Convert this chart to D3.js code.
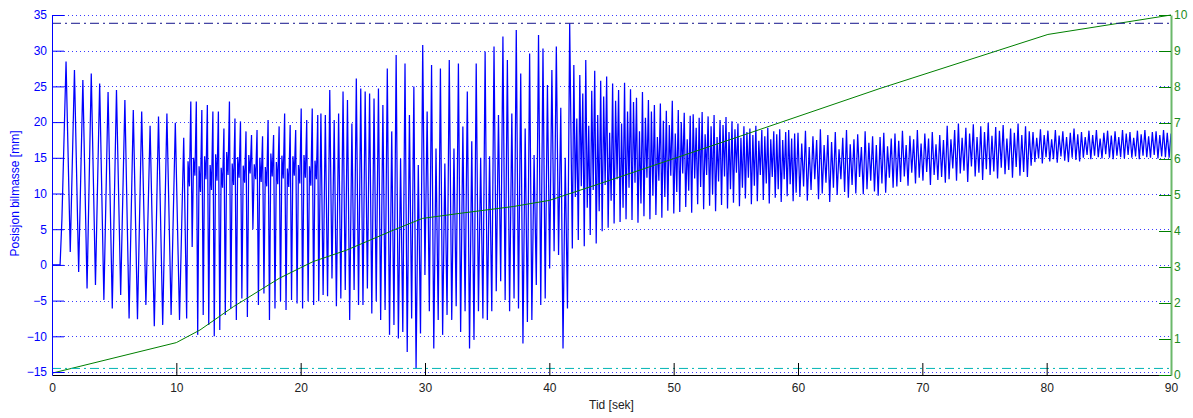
<!DOCTYPE html>
<html>
<head>
<meta charset="utf-8">
<script src="https://cdn.jsdelivr.net/npm/d3@7"></script>
<style>
body { margin: 0; background: #fff; }
svg { display: block; font-family: "Liberation Sans", Arial, sans-serif; }
</style>
</head>
<body>
<svg width="1193" height="418"></svg>
<script>
// ---- data ----
var xTicks = [0, 10, 20, 30, 40, 50, 60, 70, 80, 90];
var leftTicks = [-15, -10, -5, 0, 5, 10, 15, 20, 25, 30, 35];
var rightTicks = [0, 1, 2, 3, 4, 5, 6, 7, 8, 9, 10];

// green curve (right axis)
var greenT = [0, 10, 11.9, 14.6, 18.3, 20, 21, 23.7, 27.5, 29.8, 32.8, 37.1, 40, 44.1, 56, 66.6, 80.1, 90];
var greenV = [0.05, 0.9, 1.25, 1.9, 2.69, 2.98, 3.15, 3.47, 4.03, 4.35, 4.49, 4.68, 4.85, 5.32, 6.71, 7.96, 9.46, 10];

// reference levels (left axis)
var upperLevel = 33.84;
var lowerLevel = -14.5;

// blue signal: lead-in samples, then runs of peaks/troughs at a fixed spacing
var leadT = [0, 0.65, 0.8];
var leadV = [0, 0, 6.5];

var segStart = [1.13, 10.83, 21.45, 32.15, 41.85, 60.0];
var segStep = [0.338, 0.111, 0.178, 0.179, 0.12, 0.15];

var seg1 = [28.5, 1.8, 27.3, -1.0, 25.9, -3.3, 26.8, -2.8, 25.4, -4.9, 24.2, -6.1, 24.5, -4.2, 23.1,
  -7.5, 21.7, -7.6, 21.5, -5.6, 19.5, -8.6, 20.8, -8.4, 21.2, -7.0, 19.9, -7.7, 17.8];
var seg2 = [-7.5, 14.5, 11.0, 22.9,  2.5, 15.0, 12.5, 22.9,  -9.8, 13.8, 10.2, 21.7,  -7.0, 15.2, 12.0, 22.4,
  -8.4, 14.0, 10.5, 21.5,  -10.0, 15.5, 11.8, 21.5,  -9.1, 13.6, 10.8, 19.1,  -7.0, 15.8, 12.6, 22.9,
  -6.1, 14.2, 11.2, 20.5,  -7.7, 15.1, 12.2, 20.1,  -4.7, 13.9, 11.5, 18.7,  -7.3, 15.4, 12.8, 18.2,
  5.0, 14.1, 12.0, 18.9,  -5.6, 15.0, 11.6, 18.0,  -4.0, 13.7, 11.0, 20.3,  -7.7, 15.6, 12.4, 18.2,
  -6.1, 14.4, 11.3, 19.4,  -5.1, 15.3, 12.1, 21.2,  -6.3, 13.5, 10.9, 19.6,  -4.9, 15.2, 12.5, 18.9,
  -5.4, 14.0, 11.4, 21.9,  -6.1, 15.4, 12.2, 20.3,  -5.1, 13.8, 11.1, 21.9,  -5.6, 14.6, 12.0, 21.0];
var seg3 = [-5.1, 21.2, -4.2, 21.0, -4.4, 24.5, -1.9, 20.3, -5.8, 21.2, -4.7, 24.3, -3.5, 23.1, -7.7, 19.8,
  -3.5, 26.1, -5.6, 24.7, -5.6, 24.3, -3.3, 24.0, -6.8, 23.3, -5.1, 24.7, -7.7, 22.4, -6.3, 27.5,
  -9.8, 18.7, -8.4, 29.4, -10.3, 14.9, -9.4, 28.2, -12.2, 21.0, -7.5, 25.0, -14.5, 14.0, -9.6, 30.8,
  -1.4, 21.5, -6.5, 28.0, -11.7, 16.3, -7.7, 27.5, -9.8, 14.2, -7.0, 28.7];
var seg4 = [-7.7, 16.3, -5.8, 28.2, -9.4, 19.4, -6.5, 24.3, -11.7, 17.3, -10.5, 28.2, -6.5, 15.0, -7.5, 29.9,
  -7.7, 15.2, -6.5, 30.6, -3.7, 21.0, -2.3, 32.0, -4.9, 28.7, -6.5, 21.2, -4.7, 32.9, -6.1, 26.8,
  -11.0, 19.1, -8.0, 29.6, -7.7, 15.4, -2.8, 32.2, -5.6, 30.3, -4.7, 25.2, -0.5, 27.3, 1.9, 30.6,
  1.4, 22.0, -11.7, 15.0, -6.1, 33.8];
var seg5 = [2.3, 28.0, 9.5, 20.5, 3.5, 26.6, 11.0, 24.0, 2.6, 28.7,
  8.0, 19.5, 4.2, 24.4, 10.5, 27.2, 3.0, 21.0, 7.5, 25.8,
  4.7, 23.6, 11.2, 26.4, 5.2, 18.5, 9.0, 25.4, 5.8, 23.0,
  12.0, 24.5, 6.0, 19.8, 8.0, 25.5, 6.4, 21.5, 10.8, 24.6,
  6.3, 22.8, 11.5, 23.4, 5.9, 18.7, 8.6, 24.2, 6.8, 20.6,
  12.2, 23.1, 6.4, 21.5, 9.7, 22.4, 7.0, 17.9, 11.8, 22.6,
  6.6, 20.2, 9.5, 21.6, 7.6, 19.6, 12.5, 23.0, 7.2, 18.4,
  10.2, 21.7, 7.4, 20.0, 12.8, 21.3, 8.1, 17.6, 10.4, 20.9,
  7.3, 21.1, 12.1, 19.2, 8.5, 20.6, 10.9, 21.4, 7.8, 18.3,
  12.6, 20.8, 8.3, 19.4, 9.9, 21.0, 7.5, 17.9, 11.7, 20.3,
  8.4, 19.6, 12.4, 20.7, 7.9, 18.6, 10.6, 20.1, 8.7, 19.0,
  12.9, 19.8, 8.2, 17.8, 10.8, 19.4, 9.3, 18.6, 12.2, 19.1,
  8.5, 18.2, 11.1, 19.5, 8.9, 17.4, 12.6, 18.9, 9.1, 18.0,
  11.4, 19.2, 8.6, 17.6, 12.3, 18.7, 9.4, 18.3, 10.6, 19.0,
  8.8, 17.5, 12.0, 18.6, 9.6, 18.9, 11.3, 17.7, 8.9, 18.4, 10.1];
var seg6 = [18.5, 9.5, 17, 11, 18.8, 9, 16.5, 10.5, 18, 12, 17.5, 9.2, 19, 10, 16.8, 11.5,
  18.2, 8.8, 17.2, 10.8, 18.6, 9.8, 16.2, 12, 17.8, 10.2, 18.9, 9.4,
  16.9, 11.2, 17.6, 10, 18.3, 12.3, 16.5, 9.9, 18.7, 10.6, 17.1, 11.8, 18, 10.3, 16.8, 9.7,
  17.9, 11.4, 18.5, 10.1, 16.6, 12.2, 17.7, 10.8, 18.4, 11,
  17.4, 11.6, 18.8, 12.4, 16.8, 11.1, 18.1, 12.9, 17.6, 11.4, 18.9, 12.2, 17, 11.8, 18.4, 13,
  17.7, 11.2, 18.6, 12.6, 16.9, 11.9, 18.2, 12.3, 17.5, 11.5,
  19.5, 12, 17.6, 13.5, 18.9, 11.8, 19.8, 12.8, 17.8, 13.2, 19.2, 11.6, 18.4, 13.8, 19.7, 12.4,
  17.9, 12.9, 19.4, 11.9, 18.6, 13.4, 19.9, 12.6, 18.1, 13.1, 19.3, 12.1, 18.8, 13.6, 19.6, 12.7,
  17.7, 13.3, 19.1, 12.2, 18.5, 13.7, 19.8, 12.5, 18.2, 13, 19.4, 12.3, 18.7, 13.9,
  18.6, 14.4, 17.8, 14.9, 19, 14.2, 18.2, 15.1, 18.8, 14.5, 17.6, 14.8, 18.9, 14.3, 18.1, 15.2,
  18.7, 14.6, 17.9, 14.4, 18.5, 15, 19.1, 14.7, 18.3, 14.5,
  18.6, 15, 17.9, 15.4, 18.8, 14.8, 18.2, 15.3, 18.9, 15.1, 17.7, 14.9, 18.5, 15.5, 18.8, 15,
  18.1, 14.8, 18.7, 15.3, 17.9, 15.1, 18.9, 14.9, 18.4, 15.4, 18.6, 15, 17.8, 15.2, 18.8, 14.8,
  18.3, 15.3, 18.9, 15.1, 18, 15, 18.6, 15.4, 18.7, 14.9, 18.2, 15.2, 18.9, 15.1, 18.5, 15, 18.4];
var segs = [seg1, seg2, seg3, seg4, seg5, seg6];

// ---- layout ----
var svg = d3.select("svg");
var margin = {left: 52, right: 22, top: 15, bottom: 43};
var width = +svg.attr("width");
var height = +svg.attr("height");

var x = d3.scaleLinear().domain([0, 90]).range([margin.left, width - margin.right]);
var yL = d3.scaleLinear().domain([-15.42, 35]).range([height - margin.bottom, margin.top]);
var yR = d3.scaleLinear().domain([0, 10]).range([height - margin.bottom, margin.top]);

var sig = [];
leadT.forEach(function(t, i) { sig.push({t: t, v: leadV[i]}); });
segs.forEach(function(s, k) {
  s.forEach(function(v, i) { sig.push({t: segStart[k] + i * segStep[k], v: v}); });
});
var green = greenT.map(function(t, i) { return {t: t, v: greenV[i]}; });

// grid
svg.append("g").selectAll("line")
  .data(leftTicks)
  .enter().append("line")
  .attr("x1", x(0)).attr("x2", x(90))
  .attr("y1", function(d) { return Math.round(yL(d)) + 0.5; })
  .attr("y2", function(d) { return Math.round(yL(d)) + 0.5; })
  .attr("stroke", "#3a3aff")
  .attr("stroke-dasharray", "1,3")
  .attr("shape-rendering", "crispEdges");

// signal
var line = d3.line()
  .x(function(d) { return x(d.t); })
  .y(function(d) { return yL(d.v); });

svg.append("path")
  .attr("d", line(sig))
  .attr("fill", "none")
  .attr("stroke", "#0000ff")
  .attr("stroke-width", 1.25);

var lineR = d3.line()
  .x(function(d) { return x(d.t); })
  .y(function(d) { return yR(d.v); });

svg.append("path")
  .attr("d", lineR(green))
  .attr("fill", "none")
  .attr("stroke", "#008000")
  .attr("stroke-width", 1);

// reference levels
svg.append("line")
  .attr("x1", x(0)).attr("x2", x(90))
  .attr("y1", yL(upperLevel)).attr("y2", yL(upperLevel))
  .attr("stroke", "#14148c")
  .attr("stroke-dasharray", "9,4,2,4");
svg.append("line")
  .attr("x1", x(0)).attr("x2", x(90))
  .attr("y1", yL(lowerLevel)).attr("y2", yL(lowerLevel))
  .attr("stroke", "#00b4b4")
  .attr("stroke-dasharray", "9,4,2,4");

// axes
var gx = svg.append("g")
  .attr("transform", "translate(0," + (height - margin.bottom) + ")")
  .call(d3.axisBottom(x).tickValues(xTicks).tickSizeInner(-12).tickSizeOuter(0).tickPadding(8));
gx.selectAll("path, line").attr("stroke", "#000");
gx.selectAll("text").attr("fill", "#222").style("font-size", "12px").style("font-family", "Liberation Sans, Arial, sans-serif");

var gl = svg.append("g")
  .attr("transform", "translate(" + margin.left + ",0)")
  .call(d3.axisLeft(yL).tickValues(leftTicks).tickSizeInner(-12).tickSizeOuter(0).tickPadding(5));
gl.selectAll("path, line").attr("stroke", "#0000ff");
gl.selectAll("text").attr("fill", "#0000ff").style("font-size", "12px").style("font-family", "Liberation Sans, Arial, sans-serif");

var gr = svg.append("g")
  .attr("transform", "translate(" + (width - margin.right) + ",0)")
  .call(d3.axisRight(yR).tickValues(rightTicks).tickSizeInner(-12).tickSizeOuter(0).tickPadding(3));
gr.select(".domain").attr("stroke", "#6ab86a").attr("stroke-width", 2);
gr.selectAll(".tick line").attr("stroke", "#008000");
gr.selectAll("text").attr("fill", "#1c8c1c").attr("dy", "0.25em")
  .style("font-size", "12px").style("font-family", "Liberation Sans, Arial, sans-serif");

// axis titles
svg.append("text")
  .attr("x", (x(0) + x(90)) / 2)
  .attr("y", 409)
  .attr("text-anchor", "middle")
  .attr("fill", "#222")
  .style("font-size", "12px")
  .text("Tid [sek]");

svg.append("text")
  .attr("transform", "translate(19," + ((yL(35) + yL(-15)) / 2) + ") rotate(-90)")
  .attr("text-anchor", "middle")
  .attr("fill", "#0000ff")
  .style("font-size", "12px")
  .text("Posisjon bilmasse [mm]");
</script>
</body>
</html>
